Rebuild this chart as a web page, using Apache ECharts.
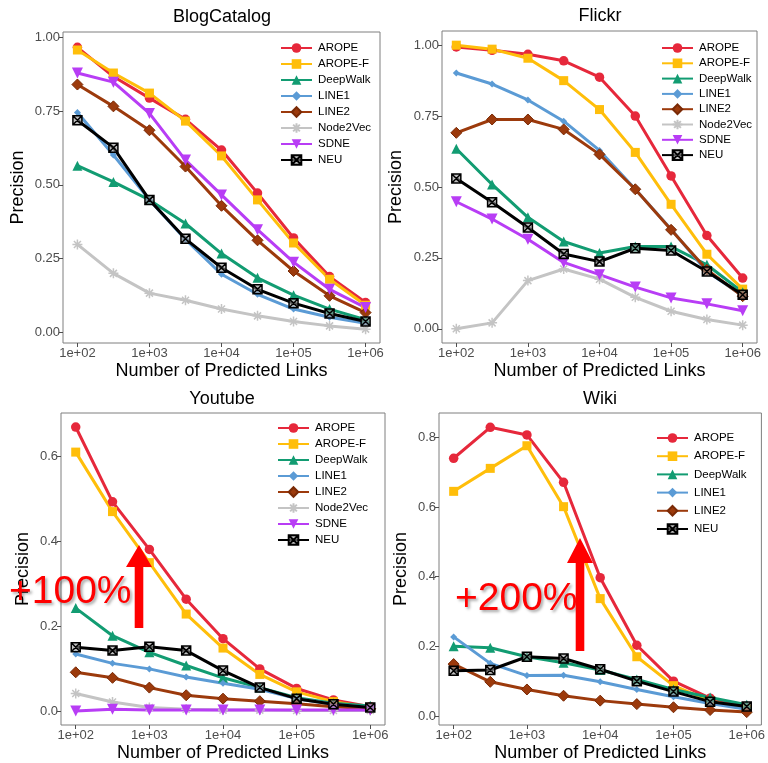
<!DOCTYPE html>
<html lang="en">
<head>
    <meta charset="UTF-8">
    <title>Link prediction precision</title>
    <script src="https://cdn.jsdelivr.net/npm/echarts@6/dist/echarts.min.js"></script>
    <style>
        html, body { margin: 0; padding: 0; background: #fff; }
        #chart { width: 768px; height: 763px; }
    </style>
</head>
<body>
    <div id="chart"></div>

    <script>
        // number of predicted links (x positions, log scale)
        var xPoints = [100, 316, 1000, 3162, 10000, 31623, 100000, 316228, 1000000];
        var xTickExp = [2, 3, 4, 5, 6];

        // BlogCatalog
        var blogArope    = [0.966, 0.867, 0.794, 0.722, 0.618, 0.472, 0.320, 0.189, 0.101];
        var blogAropeF   = [0.957, 0.879, 0.811, 0.716, 0.598, 0.449, 0.303, 0.180, 0.092];
        var blogDeepWalk = [0.565, 0.510, 0.449, 0.369, 0.267, 0.185, 0.126, 0.079, 0.043];
        var blogLine1    = [0.745, 0.601, 0.449, 0.315, 0.197, 0.129, 0.079, 0.051, 0.031];
        var blogLine2    = [0.840, 0.766, 0.685, 0.562, 0.429, 0.312, 0.208, 0.124, 0.067];
        var blogNode2Vec = [0.298, 0.200, 0.133, 0.109, 0.079, 0.056, 0.037, 0.022, 0.011];
        var blogSdne     = [0.879, 0.848, 0.742, 0.584, 0.466, 0.348, 0.238, 0.146, 0.084];
        var blogNeu      = [0.719, 0.626, 0.449, 0.317, 0.219, 0.146, 0.099, 0.064, 0.037];

        // Flickr
        var flickrArope    = [0.994, 0.982, 0.968, 0.945, 0.887, 0.750, 0.539, 0.329, 0.179];
        var flickrAropeF   = [1.000, 0.986, 0.954, 0.875, 0.773, 0.622, 0.439, 0.263, 0.140];
        var flickrDeepWalk = [0.635, 0.509, 0.393, 0.308, 0.267, 0.290, 0.290, 0.226, 0.129];
        var flickrLine1    = [0.902, 0.863, 0.807, 0.732, 0.629, 0.492, 0.351, 0.202, 0.117];
        var flickrLine2    = [0.691, 0.738, 0.738, 0.703, 0.615, 0.492, 0.349, 0.208, 0.115];
        var flickrNode2Vec = [0.000, 0.021, 0.170, 0.211, 0.175, 0.111, 0.062, 0.033, 0.013];
        var flickrSdne     = [0.448, 0.387, 0.316, 0.234, 0.191, 0.147, 0.109, 0.088, 0.064];
        var flickrNeu      = [0.530, 0.446, 0.357, 0.264, 0.237, 0.284, 0.276, 0.202, 0.120];

        // Youtube
        var ytArope    = [0.668, 0.492, 0.380, 0.263, 0.170, 0.099, 0.053, 0.026, 0.010];
        var ytAropeF   = [0.609, 0.469, 0.349, 0.228, 0.148, 0.086, 0.045, 0.022, 0.008];
        var ytDeepWalk = [0.242, 0.177, 0.138, 0.107, 0.078, 0.055, 0.031, 0.018, 0.012];
        var ytLine1    = [0.134, 0.112, 0.099, 0.080, 0.065, 0.051, 0.029, 0.016, 0.008];
        var ytLine2    = [0.091, 0.078, 0.055, 0.037, 0.029, 0.023, 0.017, 0.010, 0.005];
        var ytNode2Vec = [0.041, 0.021, 0.008, 0.004, 0.002, 0.002, 0.001, 0.001, 0.001];
        var ytSdne     = [0.000, 0.004, 0.002, 0.002, 0.002, 0.002, 0.002, 0.002, 0.002];
        var ytNeu      = [0.150, 0.142, 0.151, 0.142, 0.095, 0.055, 0.029, 0.016, 0.008];

        // Wiki
        var wikiArope    = [0.740, 0.829, 0.807, 0.671, 0.397, 0.203, 0.100, 0.051, 0.022];
        var wikiAropeF   = [0.645, 0.711, 0.776, 0.601, 0.337, 0.170, 0.087, 0.043, 0.019];
        var wikiDeepWalk = [0.200, 0.196, 0.170, 0.153, 0.132, 0.105, 0.076, 0.053, 0.032];
        var wikiLine1    = [0.227, 0.151, 0.116, 0.117, 0.098, 0.076, 0.055, 0.036, 0.019];
        var wikiLine2    = [0.149, 0.098, 0.076, 0.058, 0.044, 0.034, 0.025, 0.017, 0.011];
        var wikiNeu      = [0.130, 0.132, 0.170, 0.165, 0.134, 0.100, 0.070, 0.041, 0.027];

        var yTicksBlog = [0, 0.25, 0.5, 0.75, 1];
        var yTicksFlickr = [0, 0.25, 0.5, 0.75, 1];
        var yTicksYt = [0, 0.2, 0.4, 0.6];
        var yTicksWiki = [0, 0.2, 0.4, 0.6, 0.8];

        var FONT = 'Liberation Sans';

        var styles = {
            'AROPE':    { color: '#E6283B', symbol: 'circle', size: 9.5 },
            'AROPE-F':  { color: '#FFBE0A', symbol: 'rect', size: 9 },
            'DeepWalk': { color: '#129C72', symbol: 'triangle', size: 10 },
            'LINE1':    { color: '#5B9BD5', symbol: 'diamond', size: 7 },
            'LINE2':    { color: '#9C3A0C', symbol: 'diamond', size: 11, border: '#7A2A06' },
            'Node2Vec': { color: '#C4C4C4', symbol: 'path://M0,-1L0,1M-1,0L1,0M-0.7,-0.7L0.7,0.7M-0.7,0.7L0.7,-0.7', size: 10, stroke: true },
            'SDNE':     { color: '#B83DF5', symbol: 'triangle', size: 11, rotate: 180 },
            'NEU':      { color: '#000000', symbol: 'path://M-1,-1L1,-1L1,1L-1,1ZM-1,-1L1,1M-1,1L1,-1', size: 9, fill: 'rgba(150,150,150,0.6)' }
        };

        function makeSeries(name, values, idx) {
            var s = styles[name];
            var item = { color: s.color };
            if (s.stroke) {
                item = { color: s.color, borderColor: s.color, borderWidth: 1.5 };
            } else if (s.fill) {
                item = { color: s.fill, borderColor: s.color, borderWidth: 1.5 };
            } else if (s.border) {
                item = { color: s.color, borderColor: s.border, borderWidth: 1 };
            }
            return {
                name: name,
                type: 'line',
                xAxisIndex: idx,
                yAxisIndex: idx,
                data: xPoints.map(function (x, i) { return [Math.log10(x), values[i]]; }),
                symbol: s.symbol,
                symbolSize: s.size,
                symbolRotate: s.rotate || 0,
                showAllSymbol: true,
                lineStyle: { color: s.color, width: 3 },
                itemStyle: item,
                emphasis: { disabled: true },
                silent: true
            };
        }

        var grids = [
            { left: 63, top: 32, width: 317, height: 311 },
            { left: 442, top: 31, width: 315, height: 312 },
            { left: 61, top: 413, width: 324, height: 312 },
            { left: 439, top: 413, width: 323, height: 312 }
        ];
        var yRanges = [[-0.036, 1.018], [-0.05, 1.05], [-0.033, 0.701], [-0.026, 0.87]];
        var yTicks = [yTicksBlog, yTicksFlickr, yTicksYt, yTicksWiki];
        var yDigits = [2, 2, 1, 1];
        var yNameGap = [36, 37, 29, 29];
        var titles = ['BlogCatalog', 'Flickr', 'Youtube', 'Wiki'];

        var xAxes = grids.map(function (g, i) {
            return {
                type: 'value',
                gridIndex: i,
                min: 1.8,
                max: 6.2,
                name: 'Number of Predicted Links',
                nameLocation: 'middle',
                nameGap: 19,
                nameTextStyle: { fontFamily: FONT, fontSize: 18, color: '#000' },
                axisLine: { show: false, onZero: false },
                splitLine: { show: false },
                axisTick: { show: true, length: 4, lineStyle: { color: '#4d4d4d' }, customValues: xTickExp },
                axisLabel: {
                    customValues: xTickExp,
                    margin: 4,
                    fontFamily: FONT,
                    fontSize: 13,
                    color: '#4d4d4d',
                    formatter: function (v) { return '1e+0' + v; }
                }
            };
        });

        var yAxes = grids.map(function (g, i) {
            return {
                type: 'value',
                gridIndex: i,
                min: yRanges[i][0],
                max: yRanges[i][1],
                name: 'Precision',
                nameLocation: 'middle',
                nameGap: yNameGap[i],
                nameTextStyle: { fontFamily: FONT, fontSize: 18, color: '#000' },
                axisLine: { show: false, onZero: false },
                splitLine: { show: false },
                axisTick: { show: true, length: 4, lineStyle: { color: '#4d4d4d' }, customValues: yTicks[i] },
                axisLabel: {
                    customValues: yTicks[i],
                    margin: 3,
                    fontFamily: FONT,
                    fontSize: 13,
                    color: '#4d4d4d',
                    formatter: function (v) { return v.toFixed(yDigits[i]); }
                }
            };
        });

        var allNames = ['AROPE', 'AROPE-F', 'DeepWalk', 'LINE1', 'LINE2', 'Node2Vec', 'SDNE', 'NEU'];
        var wikiNames = ['AROPE', 'AROPE-F', 'DeepWalk', 'LINE1', 'LINE2', 'NEU'];

        var legendPos = [
            { left: 280, top: 42, gap: 4, names: allNames },
            { left: 661, top: 42, gap: 3.3, names: allNames },
            { left: 277, top: 422, gap: 4, names: allNames },
            { left: 656, top: 432, gap: 6.2, names: wikiNames }
        ];

        var legends = legendPos.map(function (p) {
            return {
                data: p.names,
                orient: 'vertical',
                left: p.left,
                top: p.top,
                padding: 0,
                itemWidth: 31,
                itemHeight: 12,
                itemGap: p.gap,
                selectedMode: false,
                textStyle: { fontFamily: FONT, fontSize: 11.5, color: '#000', padding: [0, 0, 0, 1] }
            };
        });

        var titleBoxes = [
            { text: titles[0], left: 222, top: 8 },
            { text: titles[1], left: 600, top: 7 },
            { text: titles[2], left: 222, top: 390 },
            { text: titles[3], left: 600, top: 390 }
        ].map(function (t) {
            return {
                text: t.text,
                left: t.left,
                top: t.top,
                padding: 0,
                textAlign: 'center',
                textStyle: { fontFamily: FONT, fontSize: 18, fontWeight: 'normal', color: '#000' }
            };
        });

        var series = [
            makeSeries('AROPE', blogArope, 0),
            makeSeries('AROPE-F', blogAropeF, 0),
            makeSeries('DeepWalk', blogDeepWalk, 0),
            makeSeries('LINE1', blogLine1, 0),
            makeSeries('LINE2', blogLine2, 0),
            makeSeries('Node2Vec', blogNode2Vec, 0),
            makeSeries('SDNE', blogSdne, 0),
            makeSeries('NEU', blogNeu, 0),

            makeSeries('AROPE', flickrArope, 1),
            makeSeries('AROPE-F', flickrAropeF, 1),
            makeSeries('DeepWalk', flickrDeepWalk, 1),
            makeSeries('LINE1', flickrLine1, 1),
            makeSeries('LINE2', flickrLine2, 1),
            makeSeries('Node2Vec', flickrNode2Vec, 1),
            makeSeries('SDNE', flickrSdne, 1),
            makeSeries('NEU', flickrNeu, 1),

            makeSeries('AROPE', ytArope, 2),
            makeSeries('AROPE-F', ytAropeF, 2),
            makeSeries('DeepWalk', ytDeepWalk, 2),
            makeSeries('LINE1', ytLine1, 2),
            makeSeries('LINE2', ytLine2, 2),
            makeSeries('Node2Vec', ytNode2Vec, 2),
            makeSeries('SDNE', ytSdne, 2),
            makeSeries('NEU', ytNeu, 2),

            makeSeries('AROPE', wikiArope, 3),
            makeSeries('AROPE-F', wikiAropeF, 3),
            makeSeries('DeepWalk', wikiDeepWalk, 3),
            makeSeries('LINE1', wikiLine1, 3),
            makeSeries('LINE2', wikiLine2, 3),
            makeSeries('NEU', wikiNeu, 3)
        ];

        // red arrow: shaft + head, pointing up
        function arrow(cx, tipY, headY, bottomY) {
            return {
                type: 'polygon',
                z: 100,
                shape: {
                    points: [
                        [cx, tipY], [cx + 13, headY], [cx + 4.3, headY], [cx + 4.3, bottomY],
                        [cx - 4.3, bottomY], [cx - 4.3, headY], [cx - 13, headY]
                    ]
                },
                style: { fill: '#FF0000' },
                silent: true
            };
        }

        function bigText(txt, x, y) {
            return {
                type: 'text',
                z: 100,
                x: x,
                y: y,
                style: {
                    text: txt,
                    fill: '#FF0000',
                    font: '39px "Liberation Sans"',
                    verticalAlign: 'middle',
                    textShadowColor: 'rgba(0,0,0,0.35)',
                    textShadowBlur: 3,
                    textShadowOffsetX: 2,
                    textShadowOffsetY: 2
                },
                silent: true
            };
        }

        var chart = echarts.init(document.getElementById('chart'), null, { renderer: 'canvas' });

        chart.setOption({
            animation: false,
            backgroundColor: '#fff',
            title: titleBoxes,
            legend: legends,
            grid: grids.map(function (g) {
                return Object.assign({ show: true, borderColor: '#7f7f7f', borderWidth: 1, backgroundColor: '#fff' }, g);
            }),
            xAxis: xAxes,
            yAxis: yAxes,
            series: series,
            graphic: [
                bigText('+100%', 9, 592),
                arrow(139, 545, 567, 628),
                bigText('+200%', 455, 599),
                arrow(580, 538, 563, 651)
            ]
        });
    </script>
</body>
</html>
